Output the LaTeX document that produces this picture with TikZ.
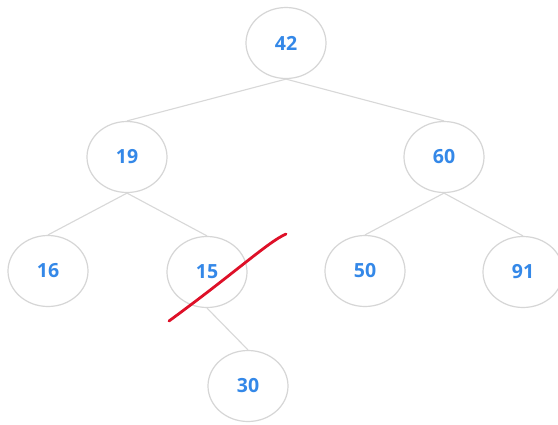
\documentclass[tikz,border=0pt]{standalone}
\usepackage{fontspec}
\setmainfont{Open Sans}
\usetikzlibrary{shapes.geometric}
\definecolor{keyblue}{RGB}{52,136,232}
\definecolor{rimgray}{RGB}{214,214,214}
\definecolor{linkgray}{RGB}{216,216,216}
\definecolor{strike}{RGB}{222,16,40}
\tikzset{
  treenode/.style={ellipse, draw=rimgray, line width=1.2pt, fill=white,
    minimum width=80pt, minimum height=71pt, inner sep=0pt,
    text=keyblue, font=\fontsize{19.5}{19.5}\selectfont\bfseries},
  link/.style={draw=linkgray, line width=1.1pt},
}
\begin{document}
\begin{tikzpicture}[x=1pt, y=-1pt]
  \useasboundingbox[fill=white] (0,0) rectangle (558,424);
  % keys of the binary search tree
  \node[treenode] (n42) at (286,43)  {42};
  \node[treenode] (n19) at (127,157) {19};
  \node[treenode] (n60) at (444,157) {60};
  \node[treenode] (n16) at (48,271)  {16};
  \node[treenode] (n15) at (207,272) {15};
  \node[treenode] (n50) at (365,271) {50};
  \node[treenode] (n91) at (523,272) {91};
  \node[treenode] (n30) at (248,386) {30};
  % parent-child links
  \draw[link] (n42.south) -- (n19.north);
  \draw[link] (n42.south) -- (n60.north);
  \draw[link] (n19.south) -- (n16.north);
  \draw[link] (n19.south) -- (n15.north);
  \draw[link] (n60.south) -- (n50.north);
  \draw[link] (n60.south) -- (n91.north);
  \draw[link] (n15.south) -- (n30.north);
  % hand-drawn strike through the removed key
  \draw[strike, line width=2.8pt, line cap=round, line join=round]
    (169,321) .. controls (236,272) and (268,242) .. (286,234);
\end{tikzpicture}
\end{document}
